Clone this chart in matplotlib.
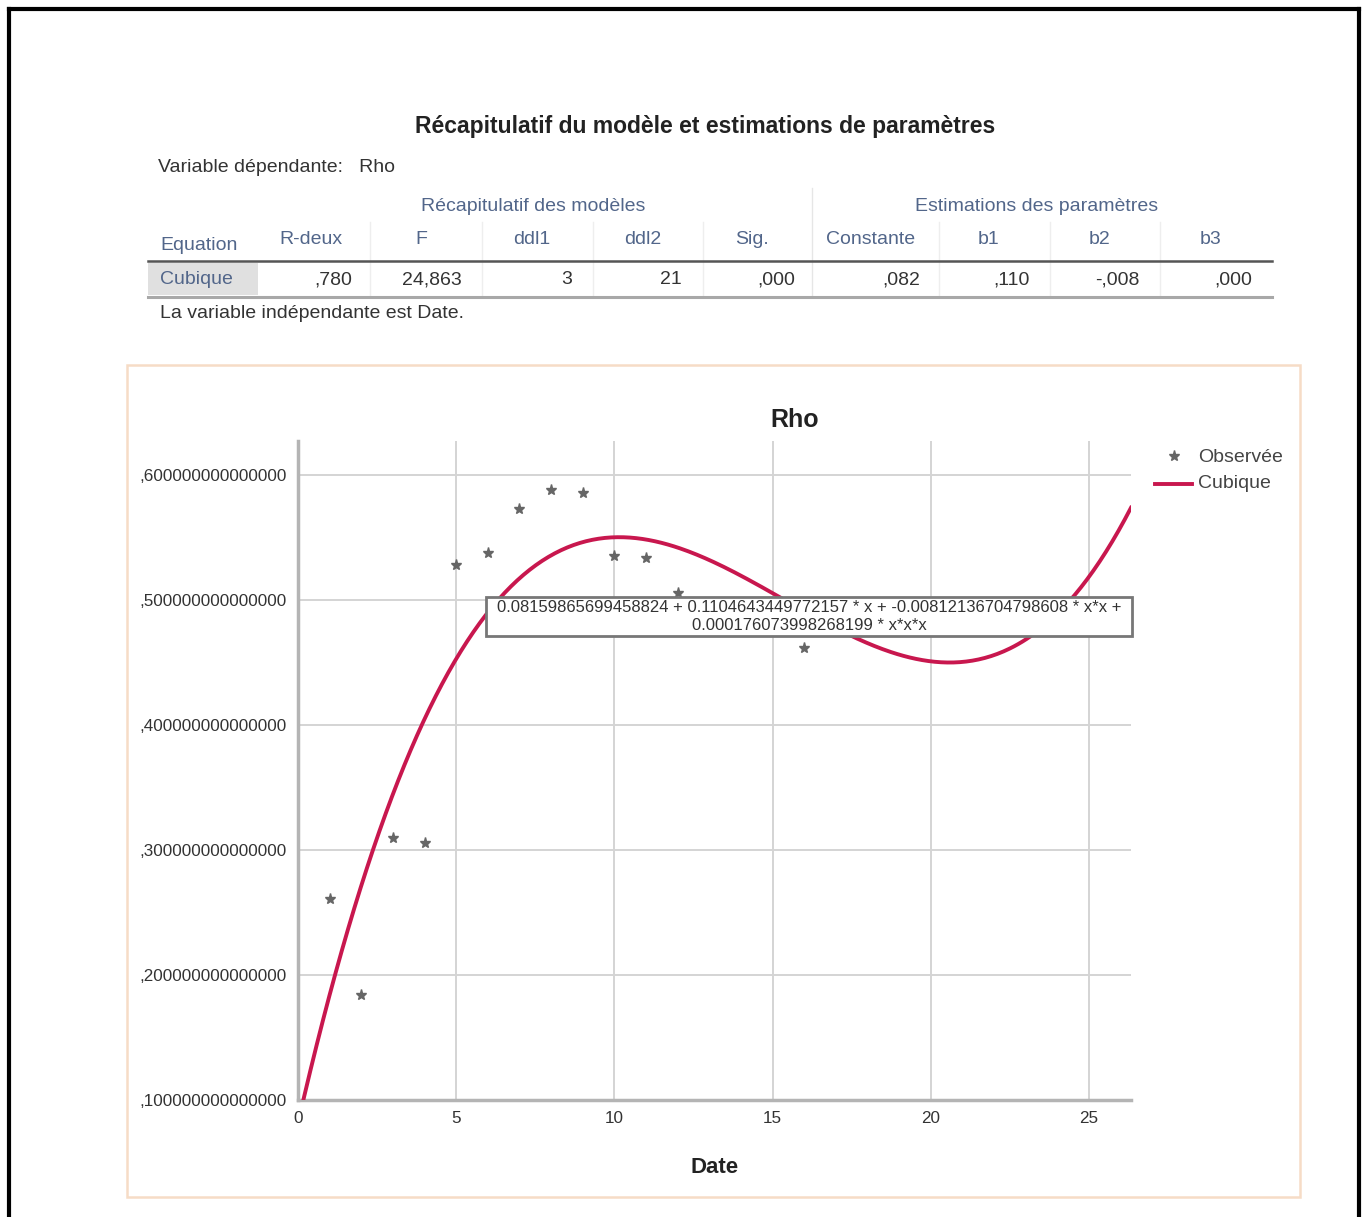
import matplotlib
matplotlib.use("Agg")
import matplotlib.pyplot as plt
import numpy as np
from matplotlib.patches import Rectangle
from matplotlib.lines import Line2D

W, H = 1365, 1217

# ---------------- data ----------------
table_title = "Récapitulatif du modèle et estimations de paramètres"
dep_var = "Variable dépendante:   Rho"
group_headers = ["Récapitulatif des modèles", "Estimations des paramètres"]
col_headers = ["Equation", "R-deux", "F", "ddl1", "ddl2", "Sig.", "Constante", "b1", "b2", "b3"]
row_values = ["Cubique", ",780", "24,863", "3", "21", ",000", ",082", ",110", "-,008", ",000"]
footnote = "La variable indépendante est Date."

date = [1, 2, 3, 4, 5, 6, 7, 8, 9, 10, 11, 12, 13, 14, 15, 16, 17, 18, 19, 20, 21, 22, 23, 24, 25]
rho = [0.261, 0.184, 0.310, 0.306, 0.528, 0.538, 0.573, 0.588, 0.586, 0.535, 0.534, 0.506,
       0.490, 0.486, 0.482, 0.462, 0.478, 0.480, 0.482, 0.484, 0.486, 0.488, 0.490, 0.494, 0.497]
coef = [0.0815986569945882, 0.1104643449772157, -0.00812136704798608, 0.000176073998268199]
eq_line1 = "0.08159865699458824 + 0.1104643449772157 * x + -0.00812136704798608 * x*x +"
eq_line2 = "0.000176073998268199 * x*x*x"
yticks = [0.1, 0.2, 0.3, 0.4, 0.5, 0.6]
ytick_labels = [",100000000000000", ",200000000000000", ",300000000000000",
                ",400000000000000", ",500000000000000", ",600000000000000"]
xticks = [0, 5, 10, 15, 20, 25]

FONT = ["Liberation Sans", "DejaVu Sans"]
plt.rcParams['font.family'] = FONT

fig = plt.figure(figsize=(W / 100, H / 100), dpi=100)

def fx(x):
    return x / W

def fy(y):
    return 1 - y / H

T = fig.transFigure
HDR = "#52668a"
TXT = "#333333"
FS = 14

# outer black border (top, left, right)
fig.add_artist(Line2D([fx(9), fx(1359)], [fy(9), fy(9)], color="black", lw=3, transform=T))
fig.add_artist(Line2D([fx(9), fx(9)], [fy(9), fy(1217)], color="black", lw=3, transform=T))
fig.add_artist(Line2D([fx(1359), fx(1359)], [fy(9), fy(1217)], color="black", lw=3, transform=T))

# ---------------- table ----------------
fig.text(fx(705), fy(127), table_title, ha="center", va="center", fontsize=16.5,
         fontweight="bold", color="#222222")
fig.text(fx(158), fy(168), dep_var, ha="left", va="center", fontsize=FS, color=TXT)
fig.text(fx(533), fy(206), group_headers[0], ha="center", va="center", fontsize=FS, color=HDR)
fig.text(fx(1037), fy(206), group_headers[1], ha="center", va="center", fontsize=FS, color=HDR)

hdr_x = [160, 311, 421, 532, 643, 752, 871, 989, 1100, 1211]
for i, (h, x) in enumerate(zip(col_headers, hdr_x)):
    fig.text(fx(x), fy(245 if i == 0 else 240), h, ha="left" if i == 0 else "center",
             va="center", fontsize=FS, color=HDR)

# column separators
for x in [370, 482, 593, 703, 939, 1050, 1160]:
    fig.add_artist(Line2D([fx(x), fx(x)], [fy(222), fy(296)], color="#eeeeee", lw=1, transform=T))
fig.add_artist(Line2D([fx(812), fx(812)], [fy(188), fy(296)], color="#e6e6e6", lw=1, transform=T))
fig.add_artist(Line2D([fx(148), fx(1272)], [fy(261), fy(261)], color="#555555", lw=1.8, transform=T))
fig.add_artist(Line2D([fx(148), fx(1272)], [fy(297), fy(297)], color="#a8a8a8", lw=2.2, transform=T))
fig.add_artist(Rectangle((fx(148), fy(295)), fx(258) - fx(148), fy(263) - fy(295),
                         facecolor="#e0e0e0", edgecolor="none", transform=T))

val_x = [160, 352, 462, 572, 682, 795, 920, 1030, 1140, 1252]
for i, (v, x) in enumerate(zip(row_values, val_x)):
    fig.text(fx(x), fy(280), v, ha="left" if i == 0 else "right", va="center",
             fontsize=FS, color=HDR if i == 0 else TXT)
fig.text(fx(160), fy(313), footnote, ha="left", va="center", fontsize=FS, color=TXT)

# orange chart frame
fig.add_artist(Rectangle((fx(127), fy(1197)), fx(1300) - fx(127), fy(365) - fy(1197),
                         facecolor="none", edgecolor="#f6dcc6", lw=1.8, transform=T))

# ---------------- chart ----------------
ax = fig.add_axes([fx(298), fy(1100), fx(1131) - fx(298), fy(441) - fy(1100)])
ax.set_xlim(0, 26.33)
ax.set_ylim(0.1, 0.6272)
ax.set_xticks(xticks)
ax.set_yticks(yticks)
ax.set_yticklabels(ytick_labels)
ax.tick_params(length=0, labelsize=12.3, colors="#333333", pad=8)
ax.grid(True, color="#d4d4d4", lw=1.4)
ax.set_axisbelow(True)
for s in ["top", "right"]:
    ax.spines[s].set_visible(False)
for s in ["left", "bottom"]:
    ax.spines[s].set_color("#b4b4b4")
    ax.spines[s].set_linewidth(2.5)

xs = np.linspace(0, 26.33, 400)
ys = coef[0] + coef[1] * xs + coef[2] * xs ** 2 + coef[3] * xs ** 3
ax.plot(xs, ys, color="#c8174e", lw=2.8, zorder=3)
ax.plot(date, rho, linestyle="none", marker="*", ms=8, color="#666666", zorder=2)

fig.text(fx(795), fy(420), "Rho", ha="center", va="center", fontsize=18,
         fontweight="bold", color="#222222")
ax.set_xlabel("Date", fontsize=16, fontweight="bold", color="#222222", labelpad=22)

# equation box
fig.add_artist(Rectangle((fx(486), fy(636)), fx(1132) - fx(486), fy(597) - fy(636),
                         facecolor="white", edgecolor="#777777", lw=2, transform=T, zorder=5))
fig.text(fx(809), fy(608), eq_line1, ha="center", va="center", fontsize=12,
         color="#333333", zorder=6)
fig.text(fx(809), fy(625), eq_line2, ha="center", va="center", fontsize=12,
         color="#333333", zorder=6)

# legend
fig.add_artist(Line2D([fx(1174)], [fy(456)], marker="*", ms=8, color="#666666",
                      linestyle="none", transform=T))
fig.add_artist(Line2D([fx(1155), fx(1192)], [fy(484), fy(484)], color="#c8174e", lw=2.8, transform=T))
fig.text(fx(1198), fy(458), "Observée", ha="left", va="center", fontsize=FS, color="#444444")
fig.text(fx(1198), fy(484), "Cubique", ha="left", va="center", fontsize=FS, color="#444444")

fig.savefig("out.png", dpi=100)
